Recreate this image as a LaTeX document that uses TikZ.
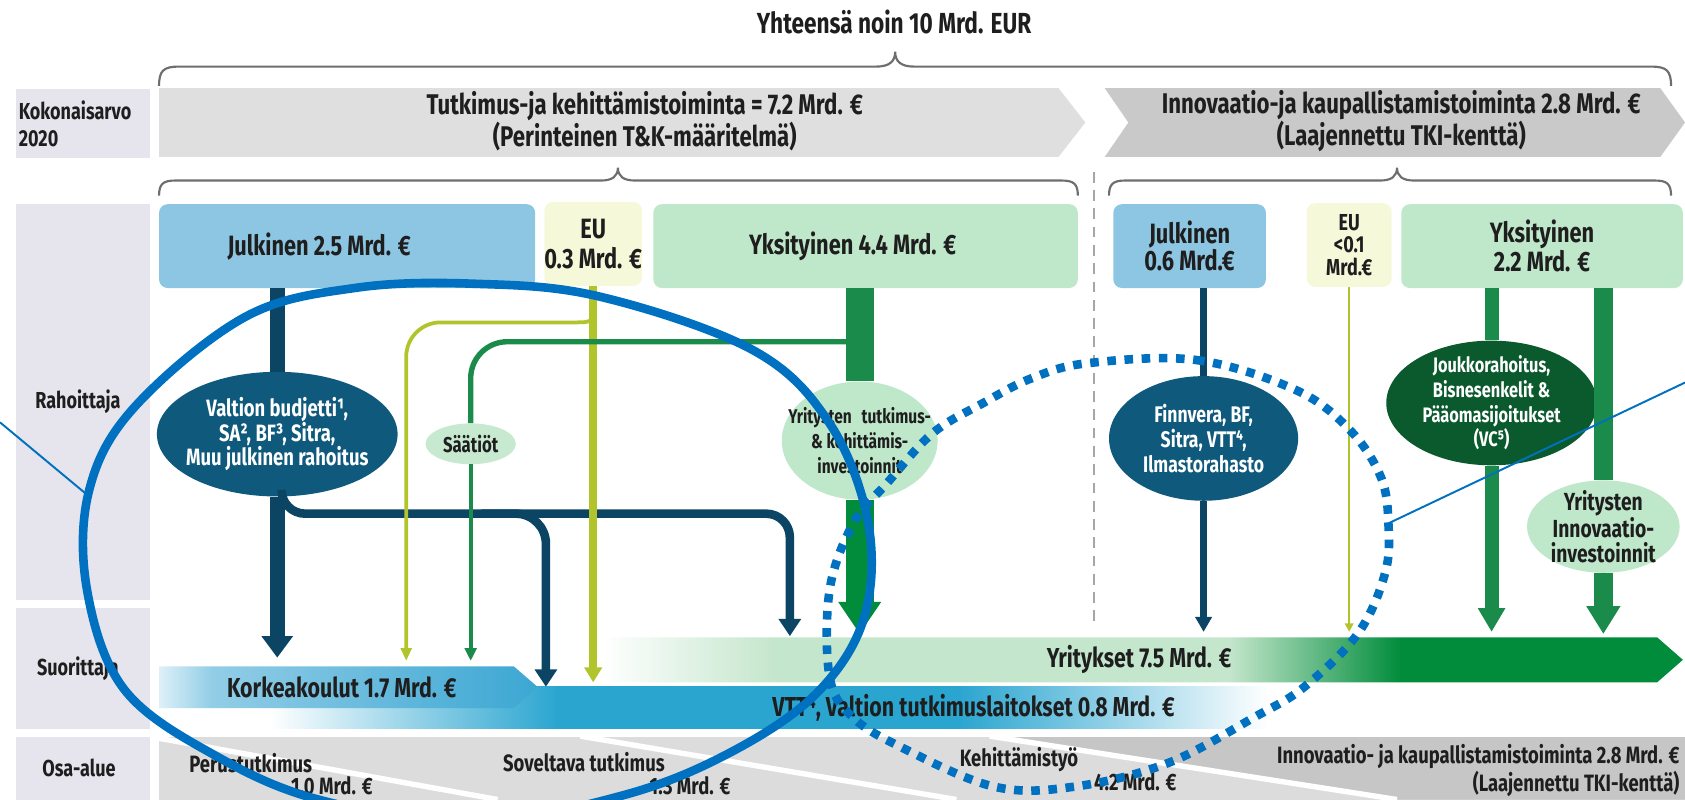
\documentclass[tikz,border=0pt]{standalone}
\usepackage{fontspec}
\setmainfont{Fira Sans}[FakeStretch=0.78]
\usetikzlibrary{arrows.meta,shapes.geometric,calc}
\newcommand{\fsz}[2]{\fontsize{#1}{#2}\selectfont\bfseries}
\definecolor{lblgray}{HTML}{E6E4EC}
\definecolor{chevA}{HTML}{DFDFDF}
\definecolor{chevB}{HTML}{C9C9C9}
\definecolor{bracegray}{HTML}{6E6E6E}
\definecolor{jblue}{HTML}{8DC6E2}
\definecolor{euyel}{HTML}{F6F8DA}
\definecolor{ygreen}{HTML}{BFE7CA}
\definecolor{saatgreen}{HTML}{C6E9D0}
\definecolor{navy}{HTML}{0B4563}
\definecolor{ellnavy}{HTML}{0F5A7C}
\definecolor{euline}{HTML}{B2C42C}
\definecolor{midgreen}{HTML}{1B8B4C}
\definecolor{dkgreen}{HTML}{0B5A2D}
\definecolor{bandgreen}{HTML}{008C3B}
\definecolor{bandlgreen}{HTML}{C4E6CC}
\definecolor{vttblue}{HTML}{2AA5D0}
\definecolor{kkl}{HTML}{DDF0F8}
\definecolor{kkm}{HTML}{92CDE6}
\definecolor{kkr}{HTML}{3CA7D3}
\definecolor{osagray}{HTML}{DCDCDC}
\definecolor{osadark}{HTML}{C6C6C6}
\definecolor{annblue}{HTML}{0070C0}
\definecolor{txt}{HTML}{1E1E1E}
\pgfdeclarehorizontalshading{yrishade}{100bp}{color(0bp)=(white); color(25bp)=(white); color(33bp)=(bandlgreen); color(54bp)=(bandlgreen); color(62bp)=(bandgreen); color(100bp)=(bandgreen)}
\pgfdeclarehorizontalshading{vttshade}{100bp}{color(0bp)=(white); color(30bp)=(white); color(43bp)=(vttblue); color(61bp)=(vttblue); color(75bp)=(white); color(100bp)=(white)}
\pgfdeclarehorizontalshading{kkshade}{100bp}{color(0bp)=(kkl); color(25bp)=(kkl); color(32bp)=(kkm); color(75bp)=(kkr); color(100bp)=(kkr)}
\tikzset{
  lbl/.style={fill=lblgray, minimum width=125pt, inner sep=0pt, align=center, font=\fsz{21.5}{25}},
  tbox/.style={rounded corners=8pt, minimum height=78pt, inner sep=0pt, align=center, font=\fsz{26}{24}},
  ell/.style={ellipse, inner xsep=-60pt, inner ysep=-40pt, align=center, font=\fsz{22}{23}},
  bandtxt/.style={inner sep=0pt, font=\fsz{25.5}{26}},
  osatxt/.style={inner sep=0pt, font=\fsz{22}{26}},
  chevtxt/.style={inner sep=0pt, align=center, font=\fsz{26.5}{26}},
  bracest/.style={draw=bracegray, line width=2pt},
  annot/.style={draw=annblue, line width=8pt},
  annthin/.style={draw=annblue, line width=1.8pt},
}
\begin{document}
\begin{tikzpicture}[x=1pt,y=-1pt, every node/.append style={text=txt}]
\useasboundingbox (0,0) rectangle (1568,744);
% named coordinates
\coordinate (kktop) at (0,620);
\coordinate (vtttop) at (0,639);
\coordinate (yrtop) at (0,592);
\coordinate (navyH) at (0,478);
\coordinate (xA) at (735,0);
\coordinate (xB) at (508,0);
\coordinate (xEUb) at (378,0);
\coordinate (euA) at (0,282);
\coordinate (euH) at (0,300);
\coordinate (grA) at (0,300);
\coordinate (grH) at (0,318);

% title
\node[chevtxt, font=\fsz{27}{27}] (title) at (832,20) {Yhteensä noin 10 Mrd. EUR};

% row labels
\node[lbl, minimum height=64pt, text width=120pt, align=left] (lK) at (77.5,115) {Kokonaisarvo\\2020};
\node[lbl, minimum height=368pt] (lR) at (77.5,374) {Rahoittaja\hspace*{10pt}};
\node[lbl, minimum height=112pt] (lS) at (77.5,622) {Suorittaja\hspace*{10pt}};
\node[lbl, minimum height=58pt] (lO) at (77.5,715) {Osa-alue\hspace*{8pt}};

% chevrons
\fill[chevA] (148,82) -- (985,82) -- (1010,114) -- (985,146) -- (148,146) -- cycle;
\fill[chevB] (1028,82) -- (1545,82) -- (1568,114) -- (1545,146) -- (1028,146) -- (1050,114) -- cycle;
\node[chevtxt] (c1) at (600,113) {Tutkimus-ja kehittämistoiminta = 7.2 Mrd. €\\(Perinteinen T\&K-määritelmä)};
\node[chevtxt] (c2) at (1304,113) {Innovaatio-ja kaupallistamistoiminta 2.8 Mrd. €\\(Laajennettu TKI-kenttä)};

% braces
\draw[bracest] (148,80) .. controls (148,66) and (152,62) .. (166,62) -- (815,62) .. controls (828,62) and (833,57) .. (833,48) .. controls (833,57) and (838,62) .. (851,62) -- (1537,62) .. controls (1551,62) and (1555,66) .. (1555,80);
\draw[bracest] (148,182) .. controls (148,171) and (152,168) .. (163,168) -- (559,168) .. controls (570,168) and (575,164) .. (575,156) .. controls (575,164) and (580,168) .. (591,168) -- (988,168) .. controls (999,168) and (1003,171) .. (1003,182);
\draw[bracest] (1032,182) .. controls (1032,171) and (1036,168) .. (1047,168) -- (1284,168) .. controls (1295,168) and (1300,164) .. (1300,156) .. controls (1300,164) and (1305,168) .. (1316,168) -- (1540,168) .. controls (1551,168) and (1555,171) .. (1555,182);

% dashed divider
\draw[draw=gray!70, line width=2pt, dash pattern=on 10pt off 7pt] (1018,160) -- (1018,582);

% top boxes
\node[tbox, fill=jblue, minimum width=350pt] (J1) at (323,229) {Julkinen 2.5 Mrd. €\hspace*{52pt}};
\node[tbox, fill=euyel, minimum width=90pt, font=\fsz{26}{28}] (E1) at (552,227) {EU\\0.3 Mrd. €};
\node[tbox, fill=ygreen, minimum width=395pt] (Y1) at (805.5,229) {Yksityinen 4.4 Mrd. €\hspace*{24pt}};
\node[tbox, fill=jblue, minimum width=142pt] (J2) at (1107,229) {Julkinen\\0.6 Mrd.€};
\node[tbox, fill=euyel, minimum width=79pt, font=\fsz{21.5}{21}] (E2) at (1255.5,228) {EU\\<0.1\\Mrd.€};
\node[tbox, fill=ygreen, minimum width=262pt] (Y2) at (1435,229) {Yksityinen\\2.2 Mrd. €};

% performer bands
\shade[shading=vttshade] (148,639) rectangle (1180,678);
\shade[shading=kkshade] (148,620) -- (478,620) -- (500,639) -- (478,659) -- (148,659) -- cycle;
\shade[shading=yrishade] (560,593) -- (1542,593) -- (1566,614) -- (1542,635) -- (560,635) -- cycle;
\node[bandtxt] (kk) at (318,640) {Korkeakoulut 1.7 Mrd. €};
\node[bandtxt] (vtt) at (906,659) {VTT\raisebox{8pt}{\fsz{17}{17}4}, Valtion tutkimuslaitokset 0.8 Mrd. €};
\node[bandtxt] (yr) at (1060,614) {Yritykset 7.5 Mrd. €};

% funder ellipses
\node[ell, fill=ellnavy, text=white, minimum width=224pt, minimum height=116pt] (vb) at (258,404) {Valtion budjetti¹,\\SA², BF³, Sitra,\\Muu julkinen rahoitus};
\node[ell, fill=saatgreen, minimum width=84pt, minimum height=38pt, font=\fsz{20}{20}] (sa) at (438,413) {Säätiöt};
\node[ell, fill=ygreen, minimum width=145pt, minimum height=110pt, font=\fsz{18.5}{23}] (yt) at (800,410) {Yritysten\hspace{0.3em} tutkimus-\\\& kehittämis-\\investoinnit};
\node[ell, fill=ellnavy, text=white, minimum width=176pt, minimum height=116pt, font=\fsz{21}{23}] (fv) at (1120,408) {Finnvera, BF,\\Sitra, VTT⁴,\\Ilmastorahasto};
\node[ell, fill=dkgreen, text=white, minimum width=196pt, minimum height=116pt, font=\fsz{19.5}{23}] (jk) at (1388,375) {Joukkorahoitus,\\Bisnesenkelit \&\\Pääomasijoitukset\\(VC⁵)};
\node[ell, fill=ygreen, minimum width=142pt, minimum height=86pt, font=\fsz{23}{23}] (yi) at (1492,490) {Yritysten\\Innovaatio-\\investoinnit};

% left flows: public
\draw[draw=navy, line width=14pt] (vb.north |- J1.south) -- (vb.north);
\draw[draw=navy, line width=14pt, -{Triangle[width=28pt,length=20pt]}, shorten >=8pt] (vb.south) -- (vb.south |- kktop);
\draw[draw=navy, line width=8pt, rounded corners=22pt, -{Triangle[width=20pt,length=16pt]}] ([xshift=4pt,yshift=6pt]vb.south) |- (xA |- navyH) -- (xA |- yrtop);
\draw[draw=navy, line width=8pt, rounded corners=28pt, -{Triangle[width=20pt,length=16pt]}] ($(xB |- navyH)+(-60,0)$) -| (xB |- vtttop);

% EU flows
\draw[draw=euline, line width=3.5pt, -{Triangle[width=10pt,length=12pt]}, shorten >=5pt] (E1.south |- euA) .. controls (E1.south |- euH) .. ($(E1.south |- euH)+(-18,0)$) [rounded corners=32pt] -| (xEUb |- kktop);
\draw[draw=euline, line width=7pt, -{Triangle[width=16pt,length=14pt]}, shorten >=4pt] (E1.south) -- (E1.south |- vtttop);

% private -> foundations
\draw[draw=midgreen, line width=5pt] (yt.north |- grA) .. controls (yt.north |- grH) .. ($(yt.north |- grH)+(-18,0)$) [rounded corners=34pt] -| (sa.north);
\draw[draw=midgreen, line width=3.5pt, -{Triangle[width=11pt,length=12pt]}, shorten >=5pt] (sa.south) -- (sa.south |- kktop);

% private trunk
\draw[draw=midgreen, line width=26pt] (yt.north |- Y1.south) -- (yt.north);
\draw[draw=bandgreen, line width=26pt, -{Triangle[width=38pt,length=30pt]}, shorten >=2pt] (yt.south) -- (yt.south |- yrtop);

% right flows
\draw[draw=navy, line width=7pt] (fv.north |- J2.south) -- (fv.north);
\draw[draw=navy, line width=7pt, -{Triangle[width=15pt,length=14pt]}, shorten >=4pt] (fv.south) -- (fv.south |- yrtop);
\draw[draw=euline, line width=2pt, -{Triangle[width=8pt,length=8pt]}, shorten >=4pt] (E2.south) -- (E2.south |- yrtop);
\draw[draw=midgreen, line width=13pt] (jk.north |- Y2.south) -- (jk.north);
\draw[draw=midgreen, line width=13pt, -{Triangle[width=24pt,length=22pt]}, shorten >=4pt] (jk.south) -- (jk.south |- yrtop);
\draw[draw=midgreen, line width=18pt] (yi.north |- Y2.south) -- (yi.north);
\draw[draw=midgreen, line width=18pt, -{Triangle[width=30pt,length=26pt]}, shorten >=2pt] (yi.south) -- (yi.south |- yrtop);

% sub-area band
\fill[osagray] (148,686) rectangle (1568,744);
\fill[osadark] (921,686) -- (1568,686) -- (1568,744) -- (1300,744) -- cycle;
\draw[white, line width=5pt] (148,687) -- (463,744);
\draw[white, line width=5pt] (540,685) -- (890,744);
\draw[white, line width=5pt] (921,685) -- (1300,744);
\node[osatxt, anchor=west] (pt) at (176,710) {Perustutkimus};
\node[osatxt, anchor=east] (pa) at (347,731) {1.0 Mrd. €};
\node[osatxt, anchor=west] (st) at (468,709) {Soveltava tutkimus};
\node[osatxt, anchor=east] (sb) at (680,731) {1.3 Mrd. €};
\node[osatxt, anchor=west] (kt) at (893,707) {Kehittämistyö};
\node[osatxt, anchor=east] (ka) at (1095,727) {4.2 Mrd. €};
\node[osatxt, anchor=east, align=right] (it) at (1563,717) {Innovaatio- ja kaupallistamistoiminta 2.8 Mrd. €\\(Laajennettu TKI-kenttä)};

% annotations
\draw[annot] plot[smooth cycle, tension=0.6] coordinates {(440,264) (558,276) (701,326) (772,394) (808,487) (804,575) (760,645) (680,700) (580,740) (440,765) (300,745) (202,704) (116,642) (81,549) (83,456) (125,379) (228,295) (330,268)};
\draw[annthin] (0,393) -- (83,462);
\draw[annot, dash pattern=on 8pt off 8pt] plot[smooth cycle, tension=0.6] coordinates {(1012,338) (1113,335) (1206,363) (1256,400) (1285,444) (1292,487) (1289,533) (1264,589) (1214,639) (1168,667) (1087,710) (1000,732) (925,732) (838,695) (793,667) (772,630) (772,549) (794,487) (826,449) (868,403) (915,375) (960,352)};
\draw[annthin] (1292,487) -- (1568,356);
\end{tikzpicture}
\end{document}
